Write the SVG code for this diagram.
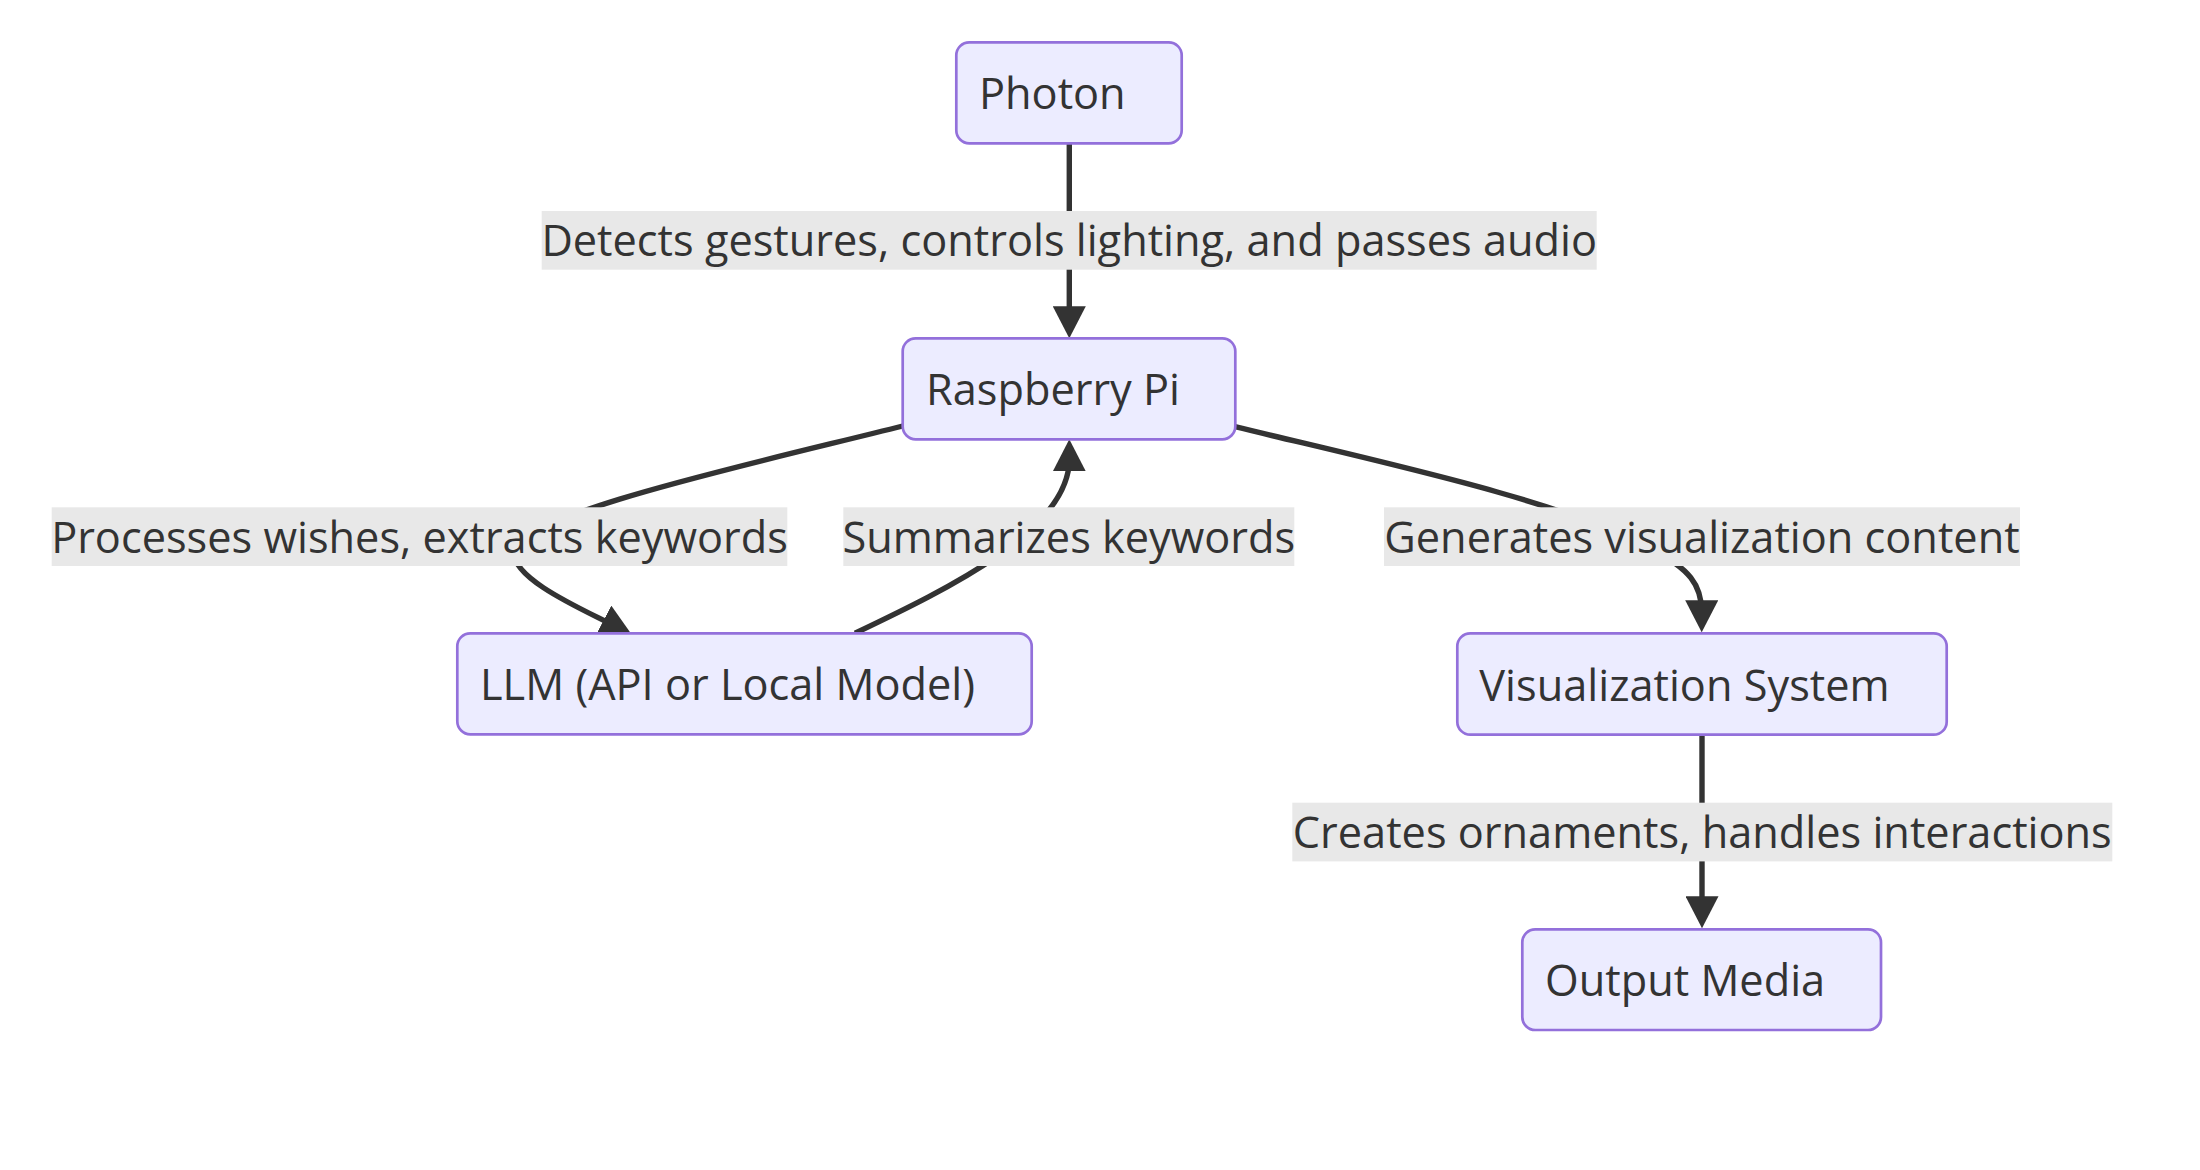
<svg xmlns="http://www.w3.org/2000/svg" width="2200" height="1170" viewBox="0 0 2200 1170">
  <style>
    .node rect { fill: #ECECFF; stroke: #9370DB; stroke-width: 2.7; }
    .node text { font-family: "Open Sans", "Liberation Sans", sans-serif; font-size: 43.3px; fill: #333333; }
    .edge { fill: none; stroke: #333333; stroke-width: 5.4; marker-end: url(#arrow); }
    .elabel rect { fill: #E8E8E8; }
    .elabel text { font-family: "Open Sans", "Liberation Sans", sans-serif; font-size: 43.3px; fill: #333333; text-anchor: middle; }
  </style>
  <defs>
    <marker id="arrow" markerUnits="userSpaceOnUse" viewBox="0 0 32 33" markerWidth="32" markerHeight="33" refX="12" refY="16.5" orient="auto">
      <path d="M0,0 L32,16.5 L0,33 Z" fill="#333333"/>
    </marker>
  </defs>
  <rect width="2200" height="1170" fill="#FFFFFF"/>

  <g id="connectors">
    <path id="e-photon-rpi" class="edge" d="M1069.3,143.3 L1069.3,318.3"/>
    <path id="e-rpi-llm" class="edge" d="M902.7,426 C760,462 514,515 514,553 C514,580 583.3,609.6 614.3,625.8"/>
    <path id="e-llm-rpi" class="edge" d="M855,633.3 C950,588 1069.3,530 1069.3,459.3"/>
    <path id="e-rpi-viz" class="edge" d="M1235,426.7 C1380,462 1560,500 1650,548 C1690,569 1701.7,585 1701.7,612.3"/>
    <path id="e-viz-out" class="edge" d="M1702,735 L1702,908.3"/>
  </g>

  <g id="edge-labels">
    <g class="elabel" id="l-detects">
      <rect x="541.7" y="211" width="1055" height="58.7"/>
      <text x="1069.2" y="256.4">Detects gestures, controls lighting, and passes audio</text>
    </g>
    <g class="elabel" id="l-processes">
      <rect x="51.7" y="507.3" width="735.6" height="58.7"/>
      <text x="419.5" y="552.7">Processes wishes, extracts keywords</text>
    </g>
    <g class="elabel" id="l-summarizes">
      <rect x="843.3" y="507.3" width="451" height="58.7"/>
      <text x="1068.8" y="552.7">Summarizes keywords</text>
    </g>
    <g class="elabel" id="l-generates">
      <rect x="1384" y="507.3" width="636" height="58.7"/>
      <text x="1702" y="552.7">Generates visualization content</text>
    </g>
    <g class="elabel" id="l-creates">
      <rect x="1292.3" y="802.7" width="820" height="58.7"/>
      <text x="1702.3" y="848.1">Creates ornaments, handles interactions</text>
    </g>
  </g>

  <g id="node-photon" class="node">
    <rect x="956.3" y="42.3" width="225.4" height="101" rx="13" ry="13"/>
    <text x="979" y="109.3">Photon</text>
  </g>
  <g id="node-rpi" class="node">
    <rect x="902.7" y="338.3" width="332.6" height="101" rx="13" ry="13"/>
    <text x="926" y="405.3">Raspberry Pi</text>
  </g>
  <g id="node-llm" class="node">
    <rect x="457.3" y="633.3" width="574.4" height="101" rx="13" ry="13"/>
    <text x="480" y="700.4">LLM (API or Local Model)</text>
  </g>
  <g id="node-viz" class="node">
    <rect x="1457.3" y="633.3" width="489.4" height="101.4" rx="13" ry="13"/>
    <text x="1479.3" y="700.5">Visualization System</text>
  </g>
  <g id="node-output" class="node">
    <rect x="1522.3" y="929.3" width="358.7" height="100.7" rx="13" ry="13"/>
    <text x="1545" y="996.2">Output Media</text>
  </g>
</svg>
